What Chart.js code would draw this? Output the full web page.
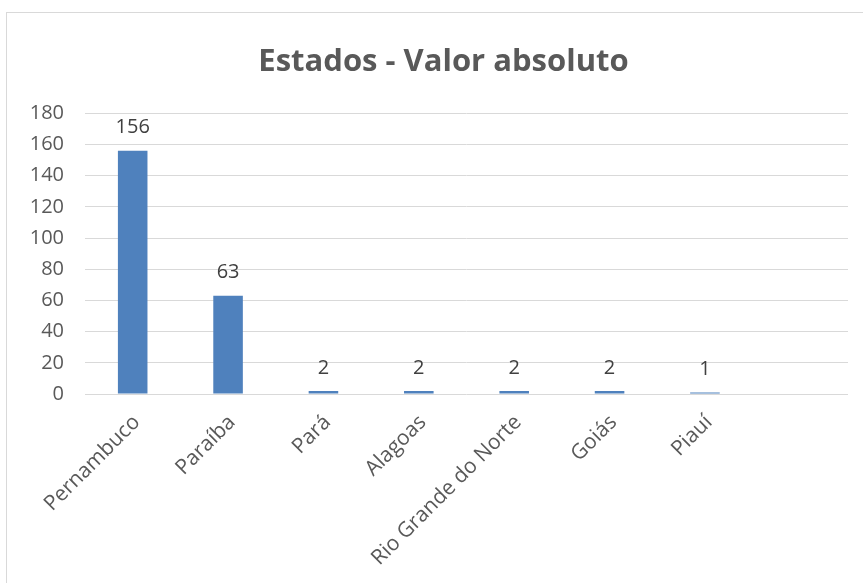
<!DOCTYPE html>
<html>
<head>
<meta charset="utf-8">
<script src="https://cdn.jsdelivr.net/npm/chart.js@4"></script>
<style>
  html, body { margin: 0; padding: 0; background: #fff; overflow: hidden; }
  #box { position: absolute; left: 6px; top: 12px; width: 873px; height: 600px; border: 1px solid #d9d9d9; }
</style>
</head>
<body>
<div id="box"><canvas id="chart" width="873" height="600"></canvas></div>
<script>
// Dados do gráfico
const estados = ['Pernambuco', 'Paraíba', 'Pará', 'Alagoas', 'Rio Grande do Norte', 'Goiás', 'Piauí', ''];
const valores = [156, 63, 2, 2, 2, 2, 1, null];
const yTicks = [0, 20, 40, 60, 80, 100, 120, 140, 160, 180];

const textColor = '#595959';
const fontFamily = '"Open Sans", sans-serif';

// rótulos de valor acima das barras
const valueLabels = {
    id: 'valueLabels',
    afterDatasetsDraw(chart) {
        const ctx = chart.ctx;
        const meta = chart.getDatasetMeta(0);
        ctx.save();
        ctx.fillStyle = '#404040';
        ctx.font = '20px ' + fontFamily;
        ctx.textAlign = 'center';
        ctx.textBaseline = 'middle';
        meta.data.forEach((bar, i) => {
            if (valores[i] == null) return;
            ctx.fillText(String(valores[i]), bar.x, bar.y - 23);
        });
        ctx.restore();
    }
};

new Chart(document.getElementById('chart'), {
    type: 'bar',
    data: {
        labels: estados,
        datasets: [{
            data: valores,
            backgroundColor: '#4f81bd',
            barPercentage: 0.31,
            categoryPercentage: 1.0
        }]
    },
    options: {
        responsive: false,
        animation: false,
        layout: { padding: 0 },
        plugins: {
            legend: { display: false },
            tooltip: { enabled: false },
            title: {
                display: true,
                text: 'Estados - Valor absoluto',
                color: textColor,
                font: { family: fontFamily, size: 31, weight: 'bold' },
                padding: { top: 31, bottom: 32 }
            }
        },
        scales: {
            x: {
                grid: { display: false },
                border: { display: false },
                ticks: {
                    color: textColor,
                    font: { family: fontFamily, size: 21 },
                    maxRotation: 45,
                    minRotation: 45,
                    padding: 8,
                    labelOffset: 4,
                    autoSkip: false
                },
                afterFit(scale) { scale.height = 219; }
            },
            y: {
                min: 0,
                max: 180,
                afterBuildTicks(scale) { scale.ticks = yTicks.map(v => ({ value: v })); },
                grid: { color: '#d9d9d9', drawTicks: false },
                border: { display: false },
                ticks: {
                    color: textColor,
                    font: { family: fontFamily, size: 20 },
                    padding: 21
                },
                afterFit(scale) { scale.width = 78; }
            },
            // eixo vazio à direita, só para reservar a margem
            yRight: {
                position: 'right',
                min: 0,
                max: 180,
                grid: { display: false },
                border: { display: false },
                ticks: { display: false },
                afterFit(scale) { scale.width = 32; }
            }
        }
    },
    plugins: [valueLabels]
});
</script>
</body>
</html>
